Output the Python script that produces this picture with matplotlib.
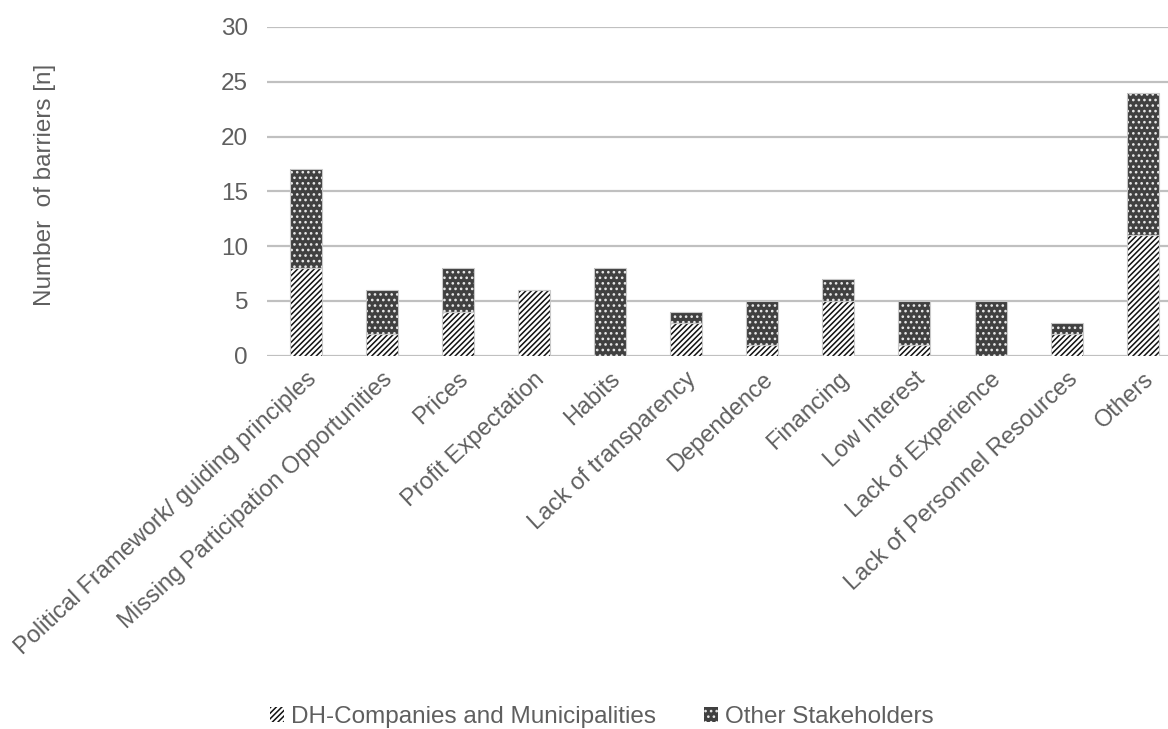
import matplotlib.pyplot as plt
import numpy as np

categories = [
    "Political Framework/ guiding principles",
    "Missing Participation Opportunities",
    "Prices",
    "Profit Expectation",
    "Habits",
    "Lack of transparency",
    "Dependence",
    "Financing",
    "Low Interest",
    "Lack of Experience",
    "Lack of Personnel Resources",
    "Others",
]
dh_companies = [8, 2, 4, 6, 0, 3, 1, 5, 1, 0, 2, 11]
other_stakeholders = [9, 4, 4, 0, 8, 1, 4, 2, 4, 5, 1, 13]

plt.rcParams['font.family'] = ['Liberation Sans', 'DejaVu Sans']
plt.rcParams['hatch.linewidth'] = 1.1
text_color = '#5f5f5f'
fs = 17.5

fig = plt.figure(figsize=(11.68, 7.29), dpi=100)
ax = fig.add_axes([0.229, 0.512, 0.782, 0.451])

x = np.arange(len(categories))
w = 0.42

# lower segment: white with black diagonal lines
ax.bar(x, dh_companies, w, color='white', edgecolor='#111111', hatch='//////',
       linewidth=0, zorder=3, label='DH-Companies and Municipalities')
# upper segment: dark grey with white dots
ax.bar(x, other_stakeholders, w, bottom=dh_companies, color='#404040',
       edgecolor='#e8e8e8', hatch='...', linewidth=0, zorder=3,
       label='Other Stakeholders')
# thin outline round each segment
ax.bar(x, dh_companies, w, fill=False, edgecolor='#c8c8c8', linewidth=0.8, zorder=4)
ax.bar(x, other_stakeholders, w, bottom=dh_companies, fill=False,
       edgecolor='#c8c8c8', linewidth=0.8, zorder=4)

ax.set_xlim(-0.5, len(categories) - 0.5)
ax.set_ylim(0, 30)
ax.set_yticks(range(0, 31, 5))
ax.yaxis.grid(True, color='#c0c0c0', linewidth=1.6, zorder=0)
ax.set_axisbelow(True)
for s in ax.spines.values():
    s.set_visible(False)

ax.set_xticks(x)
ax.set_xticklabels(categories, rotation=43, ha='right', rotation_mode='anchor',
                   fontsize=17, color=text_color)
ax.tick_params(axis='x', length=0, pad=9)
ax.tick_params(axis='y', length=0, pad=14, labelsize=fs, labelcolor=text_color)

fig.text(45 / 1168, 1 - 185 / 729, 'Number  of barriers [n]', rotation=90,
         ha='center', va='center', fontsize=fs, color=text_color)

fig.legend(loc='center', bbox_to_anchor=(602 / 1168, 1 - 717 / 729), ncol=2,
           frameon=False, fontsize=17.5, labelcolor=text_color,
           handlelength=0.55, handleheight=0.55, handletextpad=0.3,
           columnspacing=2.0)

fig.savefig('out.png', dpi=100)
